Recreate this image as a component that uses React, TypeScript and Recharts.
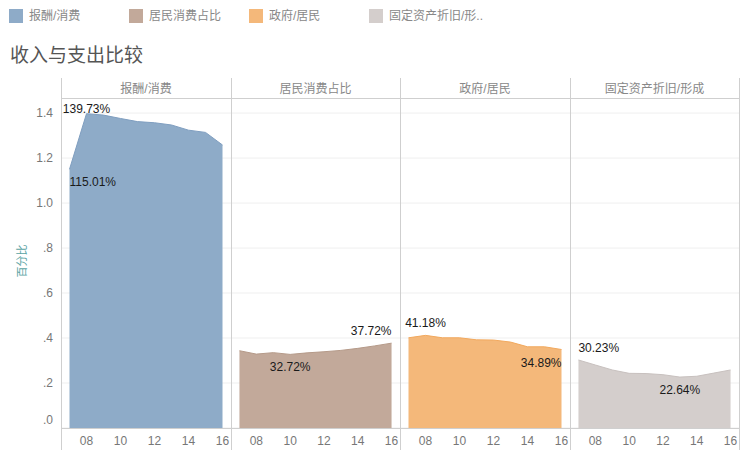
import React from 'react';
import { AreaChart, Area, XAxis, YAxis, CartesianGrid, LabelList } from 'recharts';

const years = [7, 8, 9, 10, 11, 12, 13, 14, 15, 16];
const compensation = [1.1501, 1.3973, 1.391, 1.376, 1.362, 1.357, 1.347, 1.324, 1.314, 1.258];
const consumption = [0.3436, 0.3285, 0.335, 0.3272, 0.334, 0.339, 0.345, 0.354, 0.365, 0.3772];
const government = [0.401, 0.4118, 0.401, 0.401, 0.392, 0.391, 0.382, 0.361, 0.361, 0.3489];
const depreciation = [0.3023, 0.28, 0.258, 0.243, 0.242, 0.237, 0.2264, 0.23, 0.244, 0.258];

const seriesNames = ['报酬/消费', '居民消费占比', '政府/居民', '固定资产折旧/形成'];
const legendNames = ['报酬/消费', '居民消费占比', '政府/居民', '固定资产折旧/形..'];
const yTicks = [0, 0.2, 0.4, 0.6, 0.8, 1.0, 1.2, 1.4];
const xTicks = [8, 10, 12, 14, 16];

const FONT = '"Liberation Sans", "Noto Sans CJK SC", sans-serif';
const fills = ['#8eabc8', '#c2a99a', '#f4b87a', '#d4cecc'];
const strokes = ['#7f9ec0', '#b59a89', '#f2a95e', '#c8c1bf'];

// panel placement on the page
const panels = [
  { left: 0, width: 231, yAxis: true },
  { left: 231, width: 169, yAxis: false },
  { left: 400, width: 170, yAxis: false },
  { left: 570, width: 169, yAxis: false },
];

// where the min / max labels sit relative to their point
const labelPlacement = [
  { max: { anchor: 'middle', dy: -5 }, min: { anchor: 'start', dy: 13 } },
  { max: { anchor: 'end', dy: -12 }, min: { anchor: 'middle', dy: 13 } },
  { max: { anchor: 'middle', dy: -12 }, min: { anchor: 'end', dy: 13 } },
  { max: { anchor: 'start', dy: -12 }, min: { anchor: 'middle', dy: 13 } },
];

const allSeries = [compensation, consumption, government, depreciation];

const yFmt = (v: number) => {
  if (v >= 1) return v.toFixed(1);
  return '.' + Math.round(v * 10);
};

const YTick = (props: any) => {
  const { x, y, payload } = props;
  const dy = payload.value === 0 ? -8 : 0;
  return (
    <text x={x} y={y + dy} textAnchor="end" dominantBaseline="central" fill="#777" fontSize={12} fontFamily={FONT}>
      {yFmt(payload.value)}
    </text>
  );
};

function makeLabel(values: number[], placement: any) {
  const maxIdx = values.indexOf(Math.max(...values));
  const minIdx = values.indexOf(Math.min(...values));
  return (props: any) => {
    const { x, y, index, value } = props;
    let p = null;
    if (index === maxIdx) p = placement.max;
    else if (index === minIdx) p = placement.min;
    if (!p) return null;
    return (
      <text x={x} y={y + p.dy} textAnchor={p.anchor} dominantBaseline="central" fill="#1a1a1a" fontSize={12} fontFamily={FONT}>
        {(value * 100).toFixed(2) + '%'}
      </text>
    );
  };
}

export default function App() {
  return (
    <div style={{ position: 'absolute', left: 0, top: 0, width: 746, height: 455, background: '#fff', fontFamily: FONT, overflow: 'hidden' }}>
      {/* legend */}
      {legendNames.map((name, i) => (
        <div key={name} style={{ position: 'absolute', left: 9 + i * 120, top: 9, display: 'flex', alignItems: 'center' }}>
          <div style={{ width: 14, height: 14, background: fills[i] }} />
          <span style={{ marginLeft: 6, fontSize: 12, color: '#888', lineHeight: '14px' }}>{name}</span>
        </div>
      ))}

      {/* title */}
      <div style={{ position: 'absolute', left: 10, top: 43, fontSize: 19, color: '#555', lineHeight: '26px' }}>
        收入与支出比较
      </div>

      {/* panel headers */}
      {panels.map((p, i) => {
        const l = p.yAxis ? 61 : p.left;
        const w = p.yAxis ? p.width - 61 : p.width;
        return (
          <div key={i} style={{ position: 'absolute', left: l, width: w, top: 80, height: 18, textAlign: 'center', fontSize: 12, color: '#888', lineHeight: '18px' }}>
            {seriesNames[i]}
          </div>
        );
      })}

      {/* panels */}
      {panels.map((p, i) => {
        const data = years.map((yr, k) => ({ year: yr, value: allSeries[i][k] }));
        return (
          <div key={i} style={{ position: 'absolute', left: p.left, top: 98 }}>
            <AreaChart width={p.width} height={357} data={data} margin={{ top: 0, right: 0, bottom: 0, left: 0 }}>
              <CartesianGrid vertical={false} stroke="#efefef" horizontalValues={yTicks} />
              <XAxis
                dataKey="year"
                type="number"
                domain={[6.5, 16.5]}
                ticks={xTicks}
                allowDataOverflow
                axisLine={false}
                tickLine={false}
                height={27}
                tick={{ fontSize: 12, fill: '#777', fontFamily: FONT }}
                tickFormatter={(v) => String(v).padStart(2, '0')}
              />
              <YAxis
                hide={!p.yAxis}
                width={61}
                domain={[0, 1.467]}
                ticks={yTicks}
                allowDataOverflow
                axisLine={false}
                tickLine={false}
                tick={<YTick />}
              />
              <Area
                type="linear"
                dataKey="value"
                fill={fills[i]}
                fillOpacity={1}
                stroke={strokes[i]}
                strokeWidth={1}
                isAnimationActive={false}
              >
                <LabelList dataKey="value" content={makeLabel(allSeries[i], labelPlacement[i])} />
              </Area>
            </AreaChart>
          </div>
        );
      })}

      {/* frame lines */}
      <svg width={746} height={455} style={{ position: 'absolute', left: 0, top: 0, pointerEvents: 'none' }}>
        {[61, 231, 400, 570, 739].map((x) => (
          <line key={x} x1={x + 0.5} x2={x + 0.5} y1={78} y2={450} stroke="#cfcfcf" />
        ))}
        <line x1={61} x2={740} y1={98.5} y2={98.5} stroke="#cfcfcf" />
        <line x1={61} x2={740} y1={428.5} y2={428.5} stroke="#cfcfcf" />
        <text
          x={22}
          y={261}
          transform="rotate(-90 22 261)"
          textAnchor="middle"
          dominantBaseline="central"
          fontSize={11}
          fill="#5aa3a3"
          fontFamily={FONT}
        >
          百分比
        </text>
      </svg>
    </div>
  );
}
